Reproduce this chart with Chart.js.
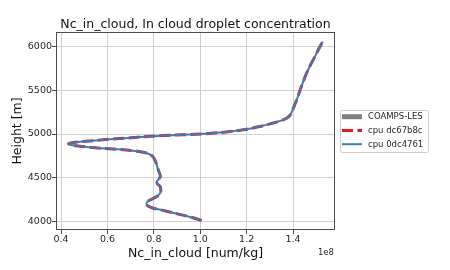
<!DOCTYPE html>
<html>
<head>
<meta charset="utf-8">
<title>Nc_in_cloud</title>
<script src="https://cdn.jsdelivr.net/npm/chart.js@4.4.1/dist/chart.umd.min.js"></script>
<style>
  html, body { margin: 0; padding: 0; background: #fff; }
  canvas { display: block; }
</style>
</head>
<body>
<canvas id="ncChart" width="450" height="270"></canvas>
<script>
// profile levels [m]
const heights = [4010, 4050, 4092, 4125, 4150, 4175, 4200, 4225, 4250, 4280, 4310, 4350, 4395, 4430,
  4455, 4480, 4515, 4560, 4620, 4700, 4750, 4780, 4800, 4812, 4825, 4838, 4852, 4866, 4878, 4887,
  4897, 4908, 4920, 4940, 4955, 4970, 4985, 5000, 5025, 5055, 5085, 5116, 5150, 5180, 5220, 5260,
  5320, 5400, 5500, 5600, 5700, 5800, 5890, 5980, 6060];
// Nc_in_cloud [num/kg], in units of 1e8
const ncDc67b8c = [1.006, 0.955, 0.891, 0.840, 0.798, 0.775, 0.768, 0.772, 0.788, 0.810, 0.824, 0.830,
  0.828, 0.815, 0.812, 0.820, 0.828, 0.823, 0.815, 0.805, 0.792, 0.770, 0.735, 0.700, 0.640, 0.570,
  0.510, 0.465, 0.440, 0.432, 0.442, 0.470, 0.522, 0.610, 0.690, 0.760, 0.870, 1.000, 1.120, 1.200,
  1.255, 1.301, 1.345, 1.372, 1.388, 1.396, 1.405, 1.417, 1.430, 1.444, 1.459, 1.477, 1.495, 1.512, 1.528];
const nc0dc4761 = [1.006, 0.955, 0.891, 0.840, 0.798, 0.775, 0.768, 0.772, 0.788, 0.810, 0.824, 0.830,
  0.828, 0.815, 0.812, 0.820, 0.828, 0.823, 0.815, 0.805, 0.792, 0.770, 0.735, 0.700, 0.640, 0.570,
  0.510, 0.465, 0.440, 0.432, 0.442, 0.470, 0.522, 0.610, 0.690, 0.760, 0.870, 1.000, 1.120, 1.200,
  1.255, 1.301, 1.345, 1.372, 1.388, 1.396, 1.405, 1.417, 1.430, 1.444, 1.459, 1.477, 1.495, 1.512, 1.528];
const ncCoampsLes = []; // no LES values on this plot, legend only

const xTicks = [0.4, 0.6, 0.8, 1.0, 1.2, 1.4];
const yTicks = [4000, 4500, 5000, 5500, 6000];
const seriesLabels = ['COAMPS-LES', 'cpu dc67b8c', 'cpu 0dc4761'];

const FONT = "'DejaVu Sans', sans-serif";
const TEXT = '#262626';

function toPoints(vals) {
  return vals.map((v, i) => ({ x: v, y: heights[i] }));
}

// matplotlib-like title, axis labels, frame, offset text and legend
const decorations = {
  id: 'decorations',
  afterDraw(chart) {
    const ctx = chart.ctx;
    const a = chart.chartArea;
    ctx.save();

    ctx.strokeStyle = '#4d4d4d';
    ctx.lineWidth = 1;
    ctx.strokeRect(a.left + 0.5, a.top + 0.5, a.right - a.left - 1, a.bottom - a.top - 1);

    ctx.fillStyle = '#111';
    ctx.textAlign = 'center';
    ctx.textBaseline = 'alphabetic';
    ctx.font = '12.5px ' + FONT;
    ctx.fillText('Nc_in_cloud, In cloud droplet concentration', (a.left + a.right) / 2, 28);
    ctx.fillText('Nc_in_cloud [num/kg]', (a.left + a.right) / 2, 257);

    ctx.save();
    ctx.translate(20.5, (a.top + a.bottom) / 2);
    ctx.rotate(-Math.PI / 2);
    ctx.fillText('Height [m]', 0, 0);
    ctx.restore();

    ctx.textAlign = 'right';
    ctx.font = '8.5px ' + FONT;
    ctx.fillStyle = TEXT;
    ctx.fillText('1e8', a.right - 1, 254.5);

    // legend
    const lx = 340.5, ly = 110.5, lw = 88, lh = 42;
    ctx.fillStyle = 'rgba(255,255,255,0.8)';
    ctx.strokeStyle = '#cccccc';
    ctx.lineWidth = 1;
    ctx.beginPath();
    ctx.roundRect(lx, ly, lw, lh, 2);
    ctx.fill();
    ctx.stroke();

    const rows = [116.7, 130.5, 144.2];
    const styles = chart.data.datasets;
    ctx.textAlign = 'left';
    ctx.textBaseline = 'middle';
    ctx.font = '8.5px ' + FONT;
    seriesLabels.forEach((label, i) => {
      const ds = styles[i];
      ctx.save();
      ctx.strokeStyle = ds.borderColor;
      ctx.lineWidth = ds.borderWidth;
      ctx.setLineDash(ds.borderDash || []);
      ctx.beginPath();
      ctx.moveTo(342, rows[i]);
      ctx.lineTo(362, rows[i]);
      ctx.stroke();
      ctx.restore();
      ctx.fillStyle = TEXT;
      ctx.fillText(label, 368, rows[i] + 0.5);
    });

    ctx.restore();
  }
};

new Chart(document.getElementById('ncChart'), {
  type: 'line',
  data: {
    datasets: [
      {
        label: seriesLabels[0],
        data: toPoints(ncCoampsLes),
        borderColor: 'rgb(128,128,128)',
        borderWidth: 5,
        pointRadius: 0,
        order: 3
      },
      {
        label: seriesLabels[1],
        data: toPoints(ncDc67b8c),
        borderColor: 'rgb(228,26,28)',
        borderWidth: 3,
        borderDash: [11, 4.5],
        pointRadius: 0,
        order: 2
      },
      {
        label: seriesLabels[2],
        data: toPoints(nc0dc4761),
        borderColor: 'rgb(55,126,184)',
        borderWidth: 2,
        pointRadius: 0,
        order: 1
      }
    ]
  },
  options: {
    responsive: false,
    animation: false,
    devicePixelRatio: 1,
    indexAxis: 'y',
    parsing: false,
    elements: { line: { cubicInterpolationMode: 'monotone', fill: false } },
    layout: { padding: { top: 32, right: 115, left: 0, bottom: 0 } },
    plugins: {
      legend: { display: false },
      title: { display: false },
      tooltip: { enabled: false }
    },
    scales: {
      x: {
        type: 'linear',
        position: 'bottom',
        min: 0.378,
        max: 1.581,
        afterFit: (s) => { s.height = 40; },
        afterBuildTicks: (s) => { s.ticks = xTicks.map(v => ({ value: v })); },
        ticks: {
          autoSkip: false,
          maxRotation: 0,
          padding: 0,
          color: TEXT,
          font: { family: FONT, size: 9.5 },
          callback: (v) => v.toFixed(1)
        },
        grid: { color: '#cfcfcf', lineWidth: 1, tickColor: '#4d4d4d', tickLength: 4 },
        border: { display: false }
      },
      y: {
        type: 'linear',
        position: 'left',
        min: 3900,
        max: 6169,
        afterFit: (s) => { s.width = 56; },
        afterBuildTicks: (s) => { s.ticks = yTicks.map(v => ({ value: v })); },
        ticks: {
          autoSkip: false,
          padding: 0,
          color: TEXT,
          font: { family: FONT, size: 9.5 },
          callback: (v) => String(v)
        },
        grid: { color: '#cfcfcf', lineWidth: 1, tickColor: '#4d4d4d', tickLength: 4 },
        border: { display: false }
      }
    }
  },
  plugins: [decorations]
});
</script>
</body>
</html>
